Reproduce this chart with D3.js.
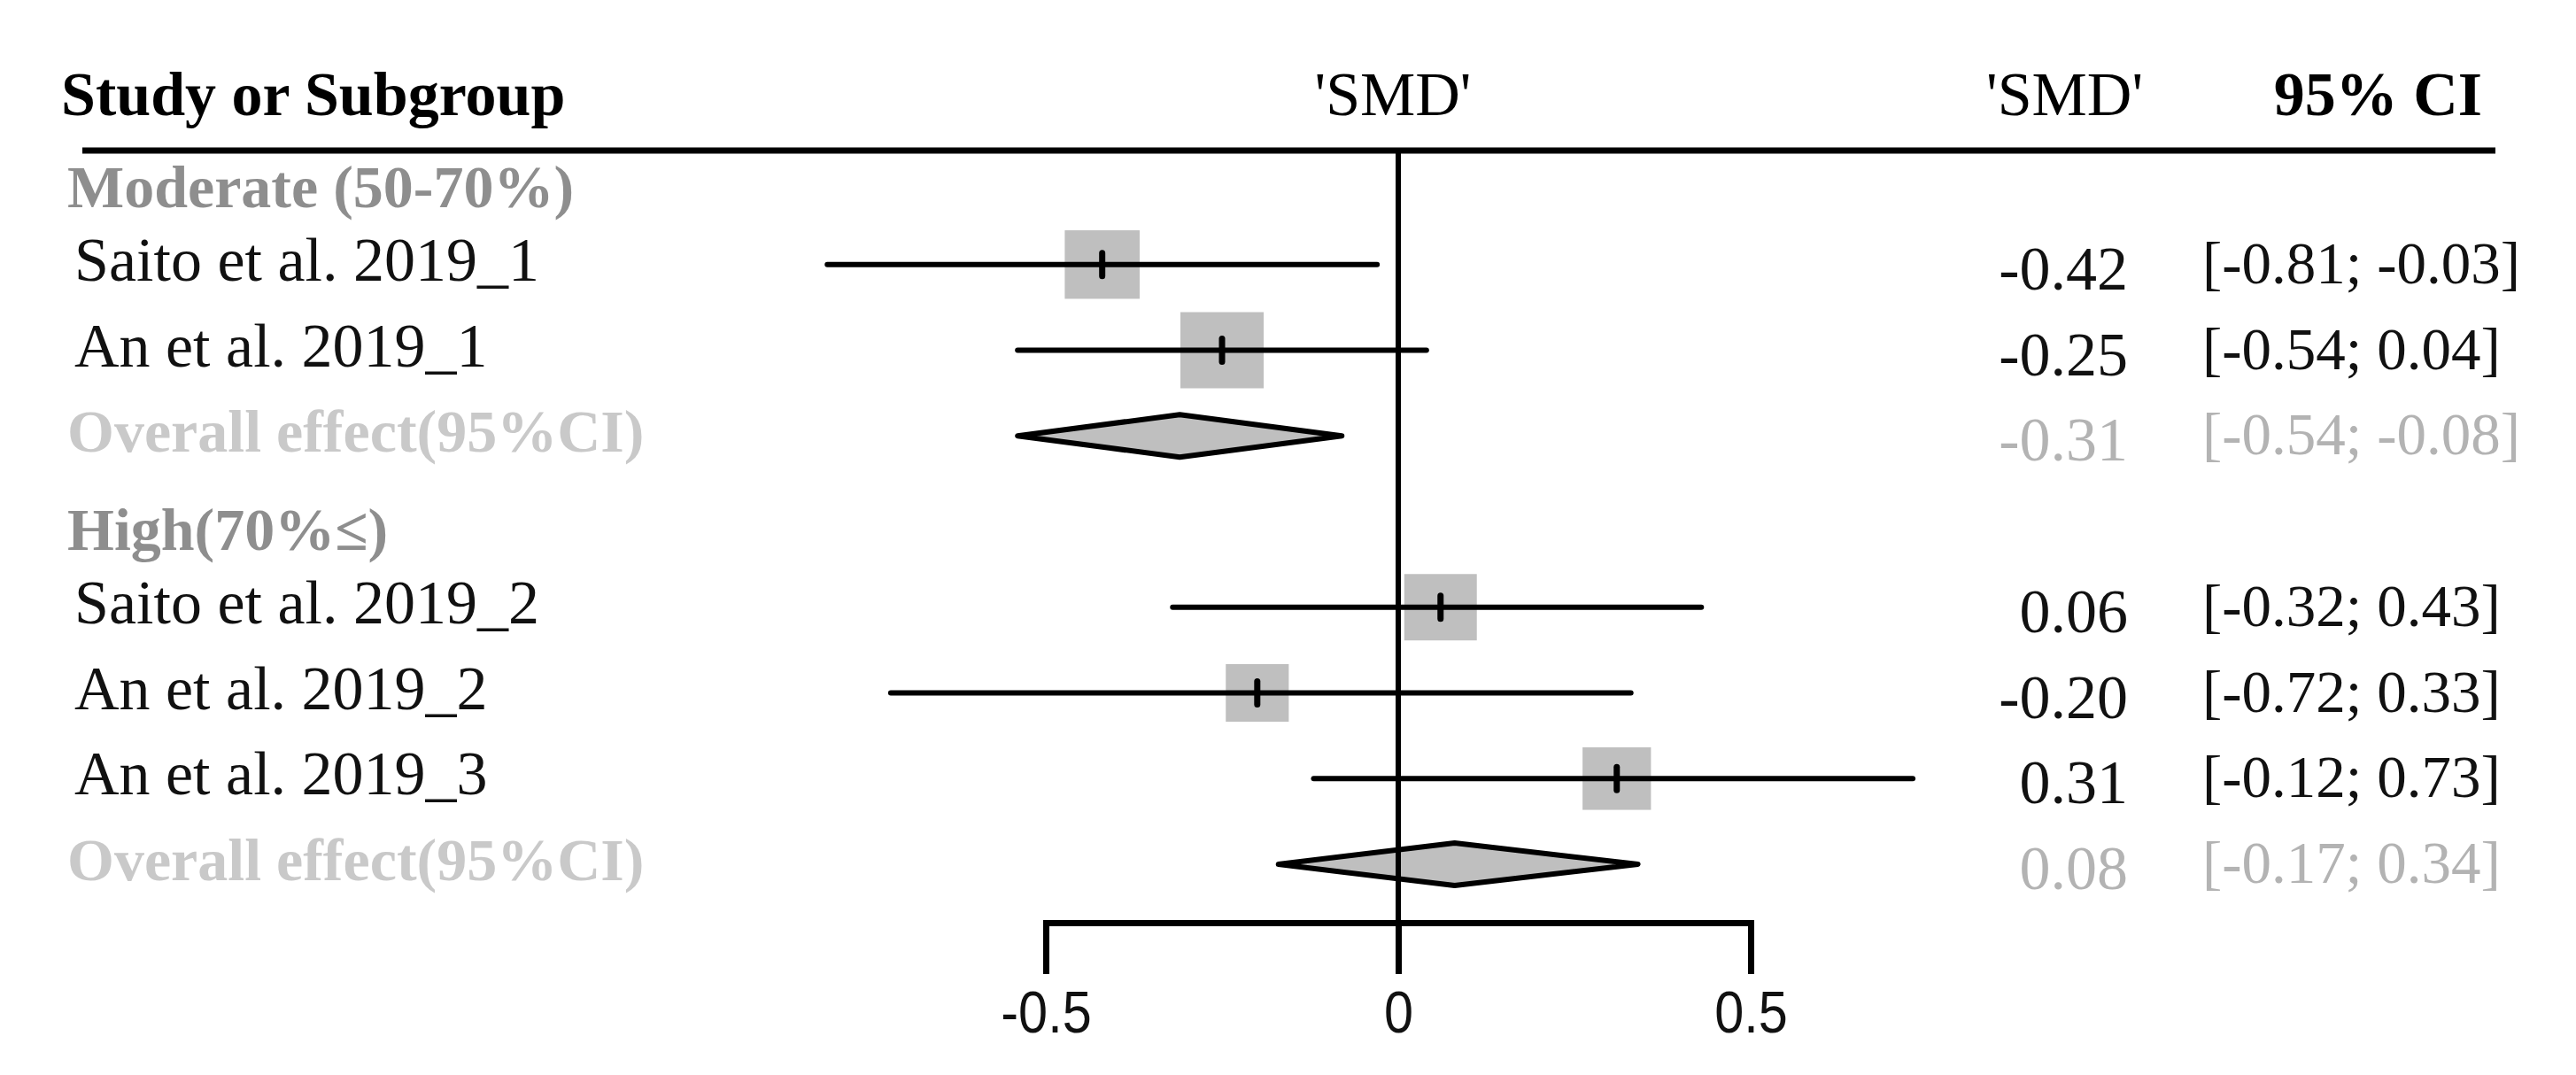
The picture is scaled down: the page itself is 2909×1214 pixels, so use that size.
<!DOCTYPE html>
<html>
<head>
<meta charset="utf-8">
<script src="https://cdn.jsdelivr.net/npm/d3@7"></script>
<style>
body { margin: 0; background: #fff; }
</style>
</head>
<body>
<script>
const studies = ["Saito et al. 2019_1", "An et al. 2019_1", "Saito et al. 2019_2", "An et al. 2019_2", "An et al. 2019_3"]
const studyGroup = [0, 0, 1, 1, 1]
const smd = [-0.42, -0.25, 0.06, -0.20, 0.31]
const ciLow = [-0.81, -0.54, -0.32, -0.72, -0.12]
const ciHigh = [-0.03, 0.04, 0.43, 0.33, 0.73]
const weights = [21.2, 26.2, 19.9, 15.0, 17.7]

const groups = ["Moderate (50-70%)", "High(70%≤)"]
const pooledSmd = [-0.31, 0.08]
const pooledLow = [-0.54, -0.17]
const pooledHigh = [-0.08, 0.34]
const overallLabel = "Overall effect(95%CI)"

const axisTicks = [-0.5, 0, 0.5]
const headers = ["Study or Subgroup", "'SMD'", "'SMD'", "95% CI"]

// rows in drawing order: group title, its studies, pooled row
const rows = []
groups.forEach((g, gi) => {
    rows.push({type: "group", label: g})
    studies.forEach((s, i) => {
        if (studyGroup[i] == gi)
            rows.push({type: "study", label: s, est: smd[i], lo: ciLow[i], hi: ciHigh[i], w: weights[i]})
    })
    rows.push({type: "overall", label: overallLabel, est: pooledSmd[gi], lo: pooledLow[gi], hi: pooledHigh[gi]})
})
rows.forEach((r, i) => r.row = i)

const width = 2909, height = 1214
const serif = "'Liberation Serif', 'DejaVu Serif', serif"
const sans = "'Liberation Sans', Arial, sans-serif"

const x = d3.scaleLinear().domain([-0.5, 0.5]).range([1181, 1977])
const y = d3.scaleLinear().domain([0, rows.length - 1]).range([202, 976])
const boxW = d3.scaleSqrt().domain([0, d3.max(weights)]).range([0, 94])
const boxH = d3.scaleSqrt().domain([0, d3.max(weights)]).range([0, 86])

const loc = d3.formatLocale({decimal: ".", thousands: ",", grouping: [3], currency: ["", ""], minus: "-"})
const fmt = loc.format(".2f")

const headerY = 170, axisY = 1042
const smdCol = 2403, ciCol = 2487

const svg = d3.select("body").append("svg")
    .attr("width", width)
    .attr("height", height)
    .attr("font-family", serif)
    .attr("font-size", 70)

svg.append("rect").attr("width", width).attr("height", height).attr("fill", "#fff")

// column headers
svg.append("text").attr("x", 69).attr("y", 130).attr("font-weight", "bold").text(headers[0])
svg.append("text").attr("x", x(0) - 6).attr("y", 130).attr("text-anchor", "middle").text(headers[1])
svg.append("text").attr("x", 2420).attr("y", 130).attr("text-anchor", "end").text(headers[2])
svg.append("text").attr("x", 2803).attr("y", 130).attr("text-anchor", "end").attr("font-weight", "bold").text(headers[3])

svg.append("line")
    .attr("x1", 93).attr("x2", 2818)
    .attr("y1", headerY).attr("y2", headerY)
    .attr("stroke", "#000").attr("stroke-width", 7)

// left labels
svg.append("g")
  .selectAll("text")
  .data(rows)
  .join("text")
    .attr("x", d => d.type == "study" ? 84 : 76)
    .attr("y", d => y(d.row) + (d.type == "group" ? 32 : 18))
    .attr("font-weight", d => d.type == "study" ? "normal" : "bold")
    .attr("font-size", d => d.type == "study" ? 70 : 68)
    .attr("fill", d => ({group: "#8e8e8e", study: "#111", overall: "#c9c9c9"})[d.type])
    .text(d => d.label)

const marked = rows.filter(d => d.type != "group")

// weight boxes
svg.append("g")
  .selectAll("rect")
  .data(marked.filter(d => d.type == "study"))
  .join("rect")
    .attr("x", d => x(d.est) - boxW(d.w) / 2)
    .attr("y", d => y(d.row) - boxH(d.w) / 2)
    .attr("width", d => boxW(d.w))
    .attr("height", d => boxH(d.w))
    .attr("fill", "#bfbfbf")

// confidence intervals
svg.append("g")
    .attr("stroke", "#000")
    .attr("stroke-width", 6)
    .attr("stroke-linecap", "round")
  .selectAll("line")
  .data(marked.filter(d => d.type == "study"))
  .join("line")
    .attr("x1", d => x(d.lo)).attr("x2", d => x(d.hi))
    .attr("y1", d => y(d.row)).attr("y2", d => y(d.row))

// point estimate ticks
svg.append("g")
    .attr("stroke", "#000")
    .attr("stroke-width", 7)
    .attr("stroke-linecap", "round")
  .selectAll("line")
  .data(marked.filter(d => d.type == "study"))
  .join("line")
    .attr("x1", d => x(d.est)).attr("x2", d => x(d.est))
    .attr("y1", d => y(d.row) - 13).attr("y2", d => y(d.row) + 13)

// pooled diamonds
svg.append("g")
  .selectAll("path")
  .data(marked.filter(d => d.type == "overall"))
  .join("path")
    .attr("d", d => {
        const cy = y(d.row)
        return `M${x(d.lo)},${cy}L${x(d.est)},${cy - 24}L${x(d.hi)},${cy}L${x(d.est)},${cy + 24}Z`
    })
    .attr("fill", "#bfbfbf")
    .attr("stroke", "#000")
    .attr("stroke-width", 6)
    .attr("stroke-linejoin", "round")

// line of no effect
svg.append("line")
    .attr("x1", x(0)).attr("x2", x(0))
    .attr("y1", headerY).attr("y2", axisY)
    .attr("stroke", "#000").attr("stroke-width", 6)

// right columns
svg.append("g")
    .attr("text-anchor", "end")
  .selectAll("text")
  .data(marked)
  .join("text")
    .attr("x", smdCol)
    .attr("y", d => y(d.row) + 28)
    .attr("fill", d => d.type == "overall" ? "#b3b3b3" : "#111")
    .text(d => fmt(d.est))

svg.append("g")
    .attr("font-size", 67)
  .selectAll("text")
  .data(marked)
  .join("text")
    .attr("x", ciCol)
    .attr("y", d => y(d.row) + 21)
    .attr("fill", d => d.type == "overall" ? "#b3b3b3" : "#111")
    .text(d => `[${fmt(d.lo)}; ${fmt(d.hi)}]`)

// x axis
const axis = svg.append("g")
    .attr("transform", `translate(0,${axisY})`)
    .call(d3.axisBottom(x)
        .tickValues(axisTicks)
        .tickSize(58)
        .tickSizeOuter(0)
        .tickPadding(19)
        .tickFormat(loc.format("~g")))
    .attr("font-family", sans)
    .attr("font-size", 66)

axis.select(".domain")
    .attr("stroke-width", 7)
    .attr("stroke-linecap", "square")
axis.selectAll(".tick line").attr("stroke-width", 7)
axis.selectAll(".tick text").attr("transform", "scale(0.9,1)").attr("fill", "#111")
</script>
</body>
</html>
